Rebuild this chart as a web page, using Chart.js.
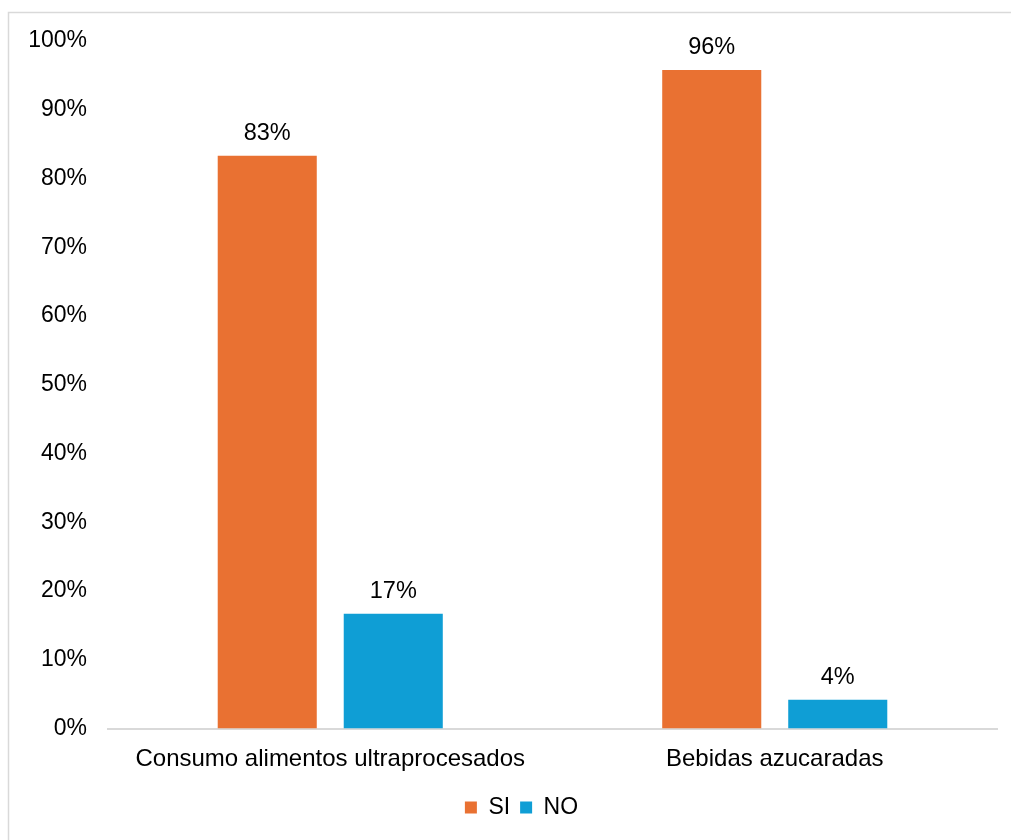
<!DOCTYPE html>
<html>
<head>
<meta charset="utf-8">
<script src="https://cdn.jsdelivr.net/npm/chart.js@4/dist/chart.umd.min.js"></script>
<style>
  html, body { margin: 0; padding: 0; background: #fff; }
  #wrap { position: absolute; left: 0; top: 0; width: 1011px; height: 840px; }
</style>
</head>
<body>
<div id="wrap"><canvas id="myChart" width="1011" height="840"></canvas></div>
<script>
// data
var categories = ['Consumo alimentos ultraprocesados', 'Bebidas azucaradas'];
var siValues = [83.3, 95.8];
var noValues = [16.7, 4.2];
var seriesNames = ['SI', 'NO'];

var FONT = "'Liberation Sans', Arial, sans-serif";

// frame around the chart (it runs off the right and bottom of the picture)
var framePlugin = {
    id: 'frame',
    beforeDraw: function (chart) {
        var ctx = chart.ctx;
        ctx.save();
        ctx.strokeStyle = '#d9d9d9';
        ctx.lineWidth = 1.5;
        ctx.strokeRect(8.5, 12.5, 1100, 1000);
        ctx.restore();
    },
    // legend sits a bit right of the canvas centre in the original
    afterLayout: function (chart) {
        chart.legend.left += 23;
        chart.legend.right += 23;
    }
};

// percent labels on top of the bars
var valueLabels = {
    id: 'valueLabels',
    afterDatasetsDraw: function (chart) {
        var ctx = chart.ctx;
        ctx.save();
        ctx.fillStyle = '#000';
        ctx.font = '23.5px ' + FONT;
        ctx.textAlign = 'center';
        ctx.textBaseline = 'alphabetic';
        chart.data.datasets.forEach(function (ds, i) {
            var meta = chart.getDatasetMeta(i);
            meta.data.forEach(function (bar, j) {
                ctx.fillText(Math.round(ds.data[j]) + '%', bar.x, bar.y - 16);
            });
        });
        ctx.restore();
    }
};

var ctx = document.getElementById('myChart').getContext('2d');

var myChart = new Chart(ctx, {
    type: 'bar',
    data: {
        labels: categories,
        datasets: [{
            label: seriesNames[0],
            data: siValues,
            backgroundColor: '#E97132',
            categoryPercentage: 0.567,
            barPercentage: 0.786
        }, {
            label: seriesNames[1],
            data: noValues,
            backgroundColor: '#0F9ED5',
            categoryPercentage: 0.567,
            barPercentage: 0.786
        }]
    },
    options: {
        responsive: false,
        animation: false,
        layout: {
            padding: { top: 41, right: 14, bottom: 11, left: 0 }
        },
        plugins: {
            legend: {
                position: 'bottom',
                labels: {
                    boxWidth: 12,
                    boxHeight: 12,
                    padding: 10,
                    color: '#000',
                    font: { family: FONT, size: 23 }
                }
            },
            tooltip: { enabled: false }
        },
        scales: {
            x: {
                grid: { display: false, drawTicks: false },
                border: { display: true, color: '#d9d9d9', width: 2 },
                ticks: {
                    color: '#000',
                    padding: 16,
                    maxRotation: 0,
                    font: { family: FONT, size: 24 }
                },
                afterFit: function (scale) { scale.height = 57.5; }
            },
            y: {
                min: 0,
                max: 100,
                grid: { display: false, drawTicks: false },
                border: { display: false },
                ticks: {
                    stepSize: 10,
                    color: '#000',
                    padding: 21,
                    font: { family: FONT, size: 23 },
                    callback: function (v) { return v + '%'; }
                },
                afterFit: function (scale) { scale.width = 108; }
            }
        }
    },
    plugins: [framePlugin, valueLabels]
});
</script>
</body>
</html>
